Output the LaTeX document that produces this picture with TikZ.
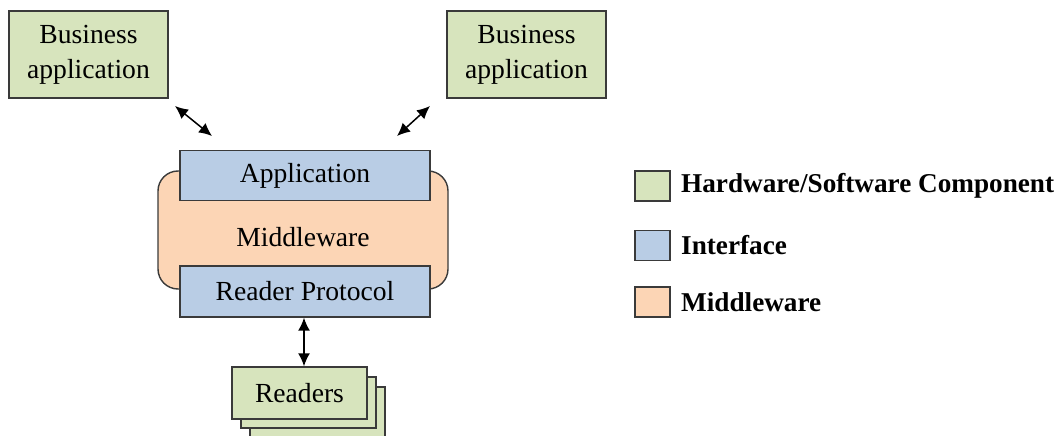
\documentclass[tikz,border=0pt]{standalone}
\usepackage{fontspec}
\setmainfont{Liberation Serif}
\usetikzlibrary{arrows.meta}

\definecolor{hwgreen}{HTML}{D7E4BD}
\definecolor{ifblue}{HTML}{B9CDE5}
\definecolor{mwpeach}{HTML}{FCD5B5}
\definecolor{edge}{HTML}{3A3A3A}

\tikzset{
  box/.style={draw=edge, line width=1.4bp, inner sep=0pt, align=center,
    font=\fontsize{27.6bp}{35bp}\selectfont},
  hwbox/.style={box, fill=hwgreen},
  ifbox/.style={box, fill=ifblue},
  mwbox/.style={box, fill=mwpeach, rounded corners=20bp},
  swatch/.style={draw=edge, line width=1.4bp, minimum width=35bp, minimum height=30bp, inner sep=0pt},
  legtext/.style={anchor=west, inner sep=0pt, font=\fontsize{27.2bp}{32bp}\selectfont\bfseries},
  link/.style={line width=1.5bp, {Latex[length=13bp,width=12bp]}-{Latex[length=13bp,width=12bp]}},
}

\begin{document}
\begin{tikzpicture}[x=1bp, y=-1bp]
  \useasboundingbox (0,0) rectangle (1062,436);
  \clip (0,0) rectangle (1062,436);

  % business applications
  \node[hwbox, minimum width=159bp, minimum height=87bp] (ba1) at (88.5,54.5) {Business\\application};
  \node[hwbox, minimum width=159bp, minimum height=87bp] (ba2) at (526.5,54.5) {Business\\application};

  % middleware with its two interfaces
  \node[mwbox, minimum width=290bp, minimum height=118bp] (mw) at (303,230) {};
  \node[box, draw=none, inner sep=0pt] (mwtext) at (303,237) {Middleware};
  \node[ifbox, minimum width=250bp, minimum height=50bp] (app) at (305,175.5) {\raisebox{-2bp}{Application}};
  \node[ifbox, minimum width=250bp, minimum height=51bp] (rp) at (305,291.5) {Reader Protocol};

  % stacked readers
  \node[hwbox, minimum width=135bp, minimum height=53bp] (rd3) at (317.5,413.5) {};
  \node[hwbox, minimum width=135bp, minimum height=51bp] (rd2) at (308.5,402.5) {};
  \node[hwbox, minimum width=135bp, minimum height=52bp] (rd) at (299.5,393) {Readers};

  % connectors
  \coordinate (l1) at (175,106);
  \coordinate (l2) at (212,136);
  \coordinate (r1) at (430,106);
  \coordinate (r2) at (397,136);
  \draw[link] (l1) -- (l2);
  \draw[link] (r1) -- (r2);
  \draw[link] (rp.south -| 304,0) -- (rd.north -| 304,0);

  % legend
  \node[swatch, fill=hwgreen] (k1) at (652.5,186) {};
  \node[swatch, fill=ifblue] (k2) at (652.5,245.5) {};
  \node[swatch, fill=mwpeach] (k3) at (652.5,302) {};
  \node[legtext] (t1) at (681,186) {Hardware/Software Component};
  \node[legtext] (t2) at (681,245) {Interface};
  \node[legtext] (t3) at (681,302) {Middleware};
\end{tikzpicture}
\end{document}
